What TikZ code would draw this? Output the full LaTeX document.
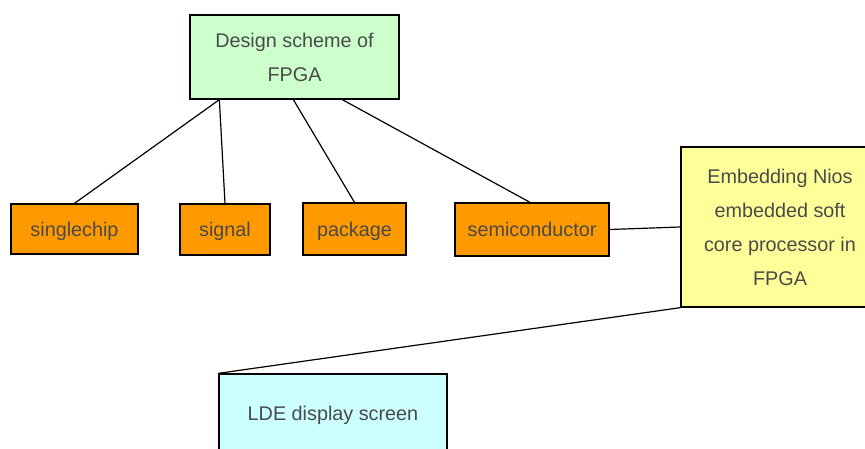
\documentclass[tikz,border=0pt]{standalone}
\usepackage{amsmath, amssymb, amsfonts}
\usepackage{fontspec}
\setmainfont{Liberation Sans}
\usepackage{tikz}

\definecolor{boxgreen}{HTML}{CCFFCC}
\definecolor{boxorange}{HTML}{FF9900}
\definecolor{boxyellow}{HTML}{FFFF99}
\definecolor{boxcyan}{HTML}{CCFFFF}
\definecolor{txtgray}{HTML}{4A4A4A}

\begin{document}
\begin{tikzpicture}[x=1pt, y=-1pt,
        box/.style={draw, line width=1.3pt, inner sep=0pt, align=center,
            text=txtgray, font=\fontsize{19.8}{34}\selectfont},
        leaf/.style={box, fill=boxorange, text depth=-2pt},
        link/.style={line width=1.2pt}]
        \useasboundingbox (0, 0) rectangle (865, 449);
        % top node
        \node[box, fill=boxgreen, minimum width=209pt, minimum height=84pt] (design) at (294.5, 57) {Design scheme of\\FPGA};
        % second row
        \node[leaf, minimum width=127pt, minimum height=50pt] (singlechip) at (74.5, 229) {singlechip};
        \node[leaf, minimum width=90pt, minimum height=51pt] (signal) at (225, 229.5) {signal};
        \node[leaf, minimum width=103pt, minimum height=52pt] (package) at (354.5, 229) {package};
        \node[leaf, minimum width=154pt, minimum height=53pt] (semi) at (532, 229.5) {semiconductor};
        \node[box, fill=boxyellow, minimum width=198pt, minimum height=160pt] (nios) at (780, 227) {Embedding Nios\\embedded soft\\core processor in\\FPGA};
        % bottom node
        \node[box, fill=boxcyan, minimum width=228pt, minimum height=82pt] (lde) at (333, 415) {LDE display screen};
        % connectors
        \draw[link] ([xshift=30pt]design.south west) -- (singlechip.north);
        \draw[link] ([xshift=30pt]design.south west) -- (signal.north);
        \draw[link] ([xshift=104pt]design.south west) -- (package.north);
        \draw[link] ([xshift=153pt]design.south west) -- ([xshift=-2pt]semi.north);
        \draw[link] (semi.east) -- (nios.west);
        \draw[link] (nios.south west) -- (lde.north west);
    \end{tikzpicture}
\end{document}
